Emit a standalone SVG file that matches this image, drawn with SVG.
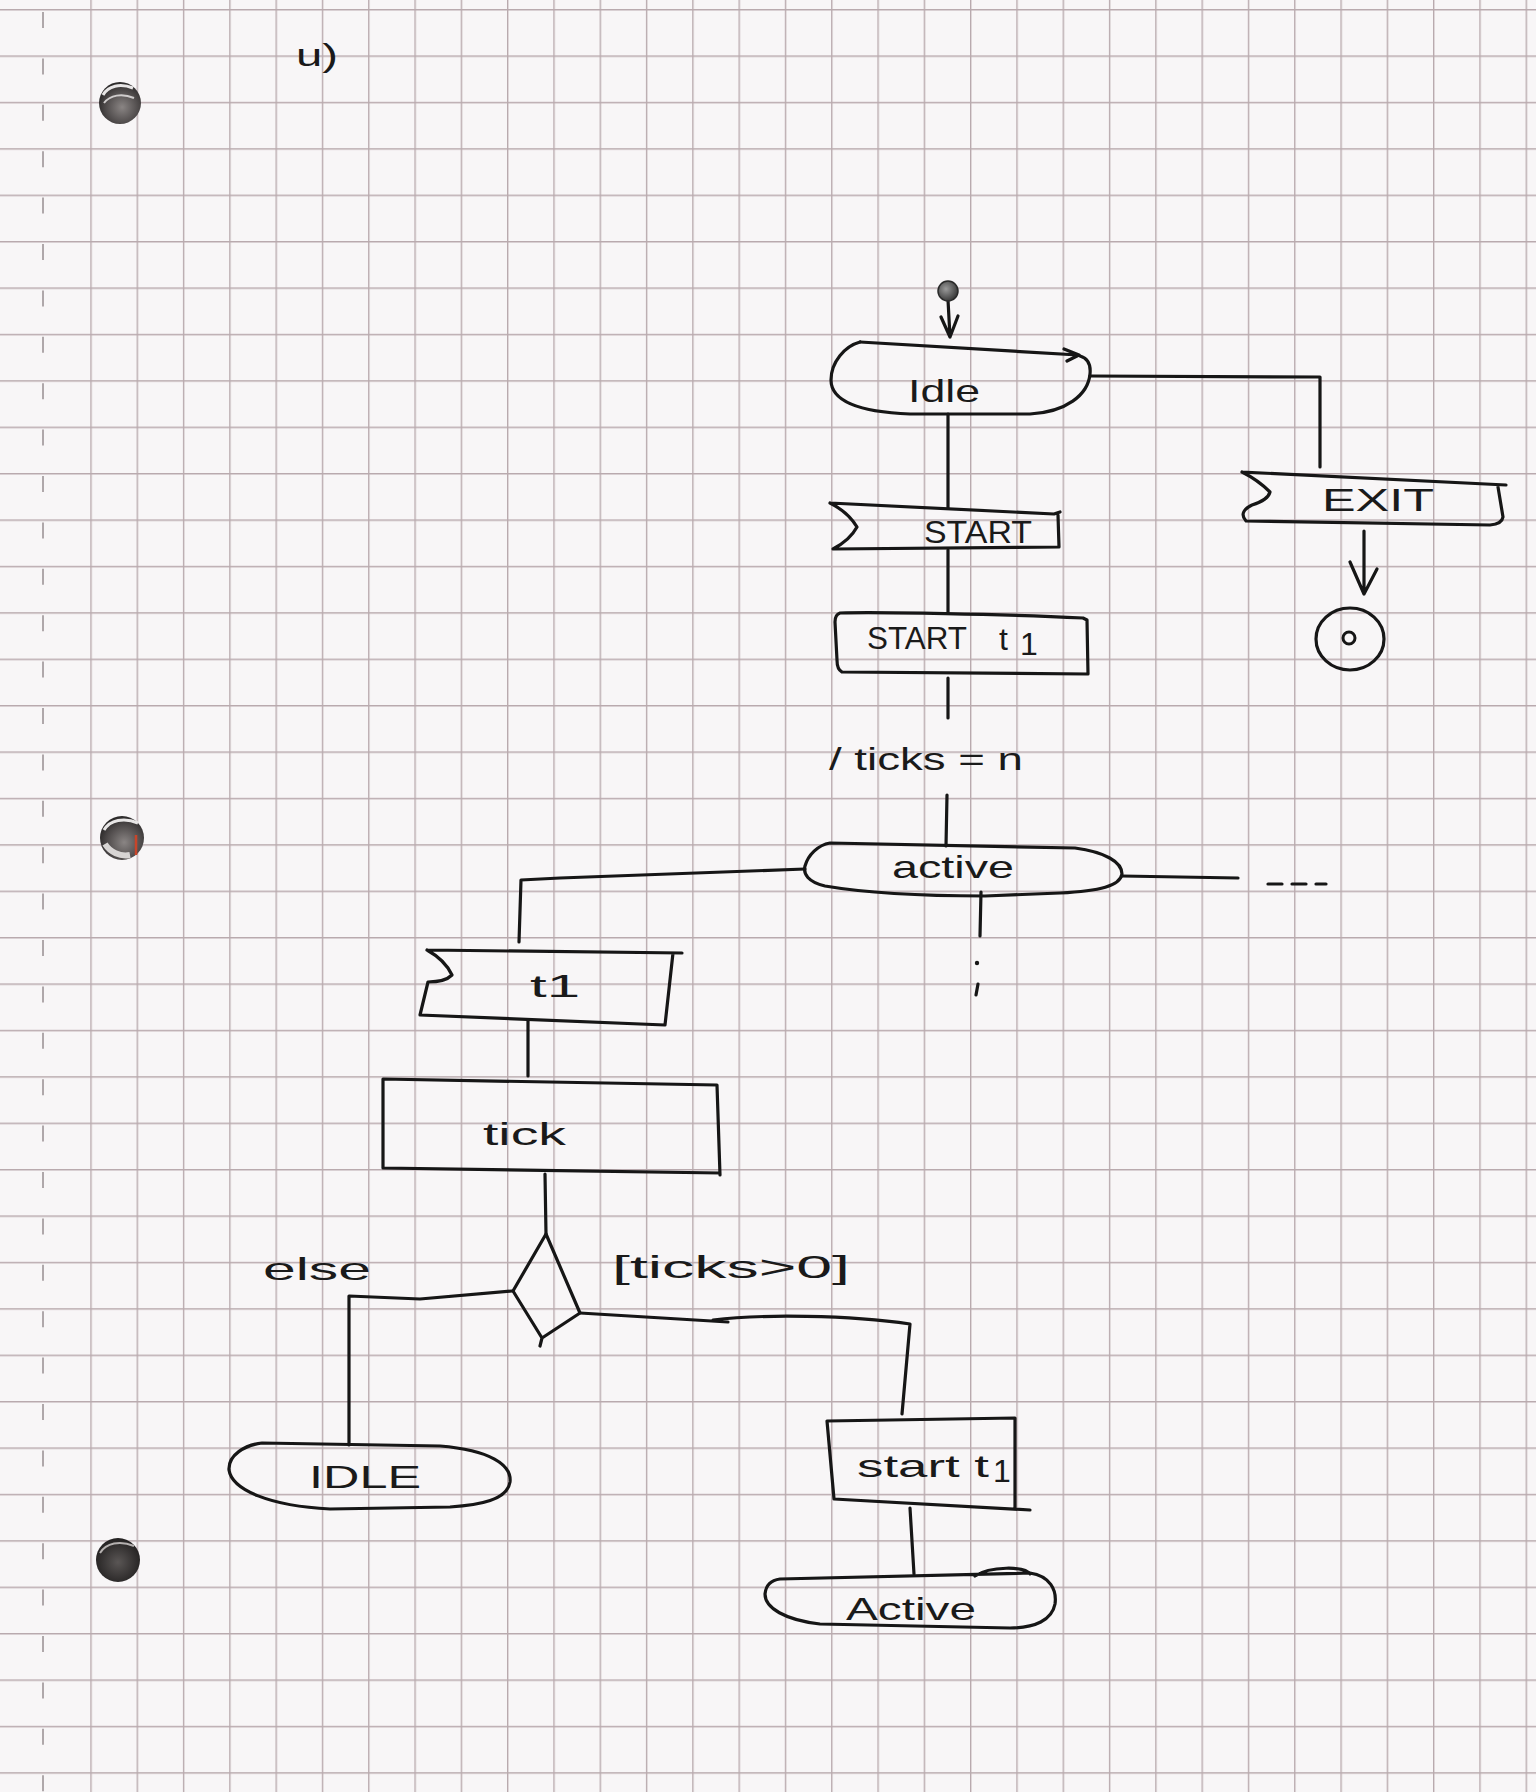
<svg xmlns="http://www.w3.org/2000/svg" width="1536" height="1792" viewBox="0 0 1536 1792">
  <style>
    .ink { fill: none; stroke: #161616; stroke-width: 3.2; stroke-linecap: round; stroke-linejoin: round; }
    .shape { fill: none; stroke: #161616; stroke-width: 3.2; stroke-linecap: round; stroke-linejoin: round; }
    .lbl { font-family: "Liberation Sans", "DejaVu Sans", sans-serif; fill: #1a1a1a; font-size: 32px; }
    .grid { stroke: #b9aaae; stroke-width: 1.4; fill: none; }
  </style>
  <defs>
    <pattern id="gridH" x="0" y="9" width="46.3" height="46.4" patternUnits="userSpaceOnUse">
      <path class="grid" d="M0 0.7 H46.3"/>
    </pattern>
    <pattern id="gridV" x="44" y="0" width="46.3" height="46.4" patternUnits="userSpaceOnUse">
      <path class="grid" d="M0.7 0 V46.4"/>
    </pattern>
    <radialGradient id="holeFill" cx="0.55" cy="0.6" r="0.6">
      <stop offset="0" stop-color="#8a8584"/>
      <stop offset="0.7" stop-color="#4a4646"/>
      <stop offset="1" stop-color="#2a2828"/>
    </radialGradient>
    <radialGradient id="holeDark" cx="0.5" cy="0.55" r="0.6">
      <stop offset="0" stop-color="#5a5655"/>
      <stop offset="1" stop-color="#1e1c1c"/>
    </radialGradient>
    <radialGradient id="dotFill" cx="0.4" cy="0.4" r="0.7">
      <stop offset="0" stop-color="#9a9a9a"/>
      <stop offset="1" stop-color="#2c2c2c"/>
    </radialGradient>
  </defs>

  <!-- squared paper -->
  <rect x="0" y="0" width="1536" height="1792" fill="#f8f6f7"/>
  <rect x="0" y="0" width="1536" height="1792" fill="url(#gridH)"/>
  <rect x="70" y="0" width="1466" height="1792" fill="url(#gridV)"/>
  <line x1="43" y1="12" x2="43" y2="1792" stroke="#9d9497" stroke-width="1.6" stroke-dasharray="16 30.4"/>

  <!-- punched holes -->
  <g id="holes">
    <circle cx="120" cy="103" r="21" fill="url(#holeFill)"/>
    <path d="M103 95 C108 86 120 83 133 88" fill="none" stroke="#e8e6e6" stroke-width="3"/>
    <path d="M104 103 C110 95 122 93 134 98" fill="none" stroke="#cfcccc" stroke-width="2"/>
    <circle cx="122" cy="838" r="22" fill="url(#holeFill)"/>
    <path d="M104 830 C110 820 124 817 138 823" fill="none" stroke="#e8e6e6" stroke-width="3"/>
    <path d="M105 844 C110 852 120 857 130 855" fill="none" stroke="#d8d5d4" stroke-width="6"/>
    <line x1="136" y1="835" x2="136" y2="855" stroke="#c8452a" stroke-width="2.5"/>
    <circle cx="118" cy="1560" r="22" fill="url(#holeDark)"/>
    <path d="M100 1553 C106 1543 120 1540 134 1546" fill="none" stroke="#b5b1b0" stroke-width="2"/>
  </g>

  <text class="lbl" x="296" y="66" font-size="48" textLength="42" lengthAdjust="spacingAndGlyphs">u)</text>

  <!-- connectors -->
  <g id="connectors">
    <!-- initial dot to Idle -->
    <path class="ink" d="M948 300 L950 337 M941 317 L950 337 L958 316"/>
    <!-- Idle to EXIT -->
    <path class="ink" d="M1090 376 L1320 377 L1320 467"/>
    <!-- EXIT to final node -->
    <path class="ink" d="M1364 531 L1364 594 M1350 562 L1364 594 L1377 569"/>
    <!-- Idle to START -->
    <path class="ink" d="M948 414 L948 508"/>
    <!-- START to START t1 -->
    <path class="ink" d="M948 550 L948 612"/>
    <!-- START t1 to active -->
    <path class="ink" d="M948 678 L948 718"/>
    <path class="ink" d="M947 795 L946 846"/>
    <!-- active, right branch -->
    <path class="ink" d="M1122 876 L1238 878"/>
    <path class="ink" d="M1268 884 L1326 884" stroke-dasharray="14 10"/>
    <!-- active, downward continuation -->
    <path class="ink" d="M981 892 L980 936"/>
    <circle cx="977" cy="963" r="2.2" fill="#161616"/>
    <path class="ink" d="M978 984 L976 995" stroke-width="2.4"/>
    <!-- active to t1 -->
    <path class="ink" d="M805 869 L560 878 L521 880 L519 942"/>
    <!-- t1 to tick -->
    <path class="ink" d="M528 1020 L528 1076"/>
    <!-- tick to decision -->
    <path class="ink" d="M545 1174 L546 1234"/>
    <!-- decision, else branch -->
    <path class="ink" d="M512 1291 L420 1299 L349 1296 L349 1445"/>
    <!-- decision, [ticks>0] branch -->
    <path class="ink" d="M580 1313 L728 1322 M713 1320 C760 1314 850 1315 910 1324 L902 1414"/>
    <!-- start t1 to Active -->
    <path class="ink" d="M910 1508 L914 1574"/>
  </g>

  <!-- nodes -->
  <g id="start">
    <circle cx="948" cy="291" r="10" fill="url(#dotFill)" stroke="#2a2a2a" stroke-width="1.5"/>
  </g>

  <g id="idle">
    <path class="shape" d="M860 342 L1078 355 M1064 349 L1079 355 L1067 361"/>
    <path class="shape" d="M860 342 C845 346 831 362 831 380 C831 402 860 412 910 414 L1030 414 C1066 412 1088 395 1090 374 C1091 364 1087 358 1080 356"/>
    <text class="lbl" x="908" y="402" font-size="32" textLength="72" lengthAdjust="spacingAndGlyphs">Idle</text>
  </g>

  <g id="exit">
    <path class="shape" d="M1242 472 L1506 485 M1498 487 L1503 517 Q1502 524 1490 525 L1246 521 Q1238 512 1252 505 Q1268 500 1270 492 Q1258 480 1242 472"/>
    <text class="lbl" x="1322" y="511" font-size="30" textLength="112" lengthAdjust="spacingAndGlyphs">EXIT</text>
  </g>

  <g id="final">
    <ellipse class="shape" cx="1350" cy="639" rx="34" ry="31"/>
    <circle cx="1349" cy="638" r="6" fill="none" stroke="#161616" stroke-width="3"/>
  </g>

  <g id="sig-start">
    <path class="shape" d="M830 503 L1054 514 L1060 512 M1058 515 L1059 547 L833 549 Q850 540 857 527 Q848 512 830 503"/>
    <text class="lbl" x="924" y="543" font-size="31" textLength="108" lengthAdjust="spacingAndGlyphs">START</text>
  </g>

  <g id="task-start-t1">
    <path class="shape" d="M840 613 C880 612 1000 614 1083 618 L1087 620 L1088 674 L842 672 C838 670 837 666 837 660 L835 622 C835 616 837 614 840 613 Z"/>
    <text class="lbl" x="867" y="649" font-size="30" textLength="100" lengthAdjust="spacingAndGlyphs">START</text>
    <text class="lbl" x="999" y="650" font-size="34">t</text>
    <text class="lbl" x="1020" y="655" font-size="18">1</text>
  </g>

  <g id="assign">
    <text class="lbl" x="829" y="770" font-size="36" textLength="194" lengthAdjust="spacingAndGlyphs">/ ticks = n</text>
  </g>

  <g id="active">
    <path class="shape" d="M830 843 L1075 848 C1105 852 1122 862 1122 874 C1120 886 1100 891 1060 893 L985 896 C920 896 860 892 825 886 C808 882 803 874 805 866 C808 855 818 845 830 843 Z"/>
    <text class="lbl" x="892" y="878" font-size="32" textLength="122" lengthAdjust="spacingAndGlyphs">active</text>
  </g>

  <g id="sig-t1">
    <path class="shape" d="M427 950 L682 953 M673 953 L665 1025 L420 1015 L428 982 Q445 982 452 975 Q445 960 427 950"/>
    <text class="lbl" x="530" y="997" font-size="32" textLength="50" lengthAdjust="spacingAndGlyphs">t1</text>
  </g>

  <g id="task-tick">
    <path class="shape" d="M383 1079 L717 1085 L720 1175 M720 1173 L383 1168 L383 1079"/>
    <text class="lbl" x="483" y="1145" font-size="36" textLength="83" lengthAdjust="spacingAndGlyphs">tick</text>
  </g>

  <g id="decision">
    <path class="shape" d="M546 1234 L513 1291 L542 1338 L580 1313 Z M542 1338 L540 1346"/>
    <text class="lbl" x="263" y="1280" font-size="34" textLength="108" lengthAdjust="spacingAndGlyphs">else</text>
    <text class="lbl" x="612" y="1278" font-size="34" textLength="238" lengthAdjust="spacingAndGlyphs">[ticks&gt;0]</text>
  </g>

  <g id="idle-2">
    <path class="shape" d="M262 1443 L440 1446 C490 1450 512 1465 510 1482 C507 1500 480 1505 450 1507 L330 1509 C270 1506 232 1490 229 1470 C228 1455 245 1445 262 1443 Z"/>
    <text class="lbl" x="309" y="1488" font-size="34" textLength="112" lengthAdjust="spacingAndGlyphs">IDLE</text>
  </g>

  <g id="task-start-t1-2">
    <path class="shape" d="M827 1421 L1015 1418 L1015 1507 M1030 1510 L834 1499 L827 1421"/>
    <text class="lbl" x="857" y="1477" font-size="34" textLength="132" lengthAdjust="spacingAndGlyphs">start t</text>
    <text class="lbl" x="993" y="1482" font-size="20">1</text>
  </g>

  <g id="active-2">
    <path class="shape" d="M780 1579 L1030 1573 C1050 1576 1057 1590 1055 1604 C1052 1620 1035 1628 1010 1628 L820 1624 C785 1620 765 1608 765 1594 C766 1584 772 1580 780 1579 Z M975 1576 C990 1566 1025 1566 1030 1574"/>
    <text class="lbl" x="846" y="1620" font-size="42" textLength="130" lengthAdjust="spacingAndGlyphs">Active</text>
  </g>
</svg>
